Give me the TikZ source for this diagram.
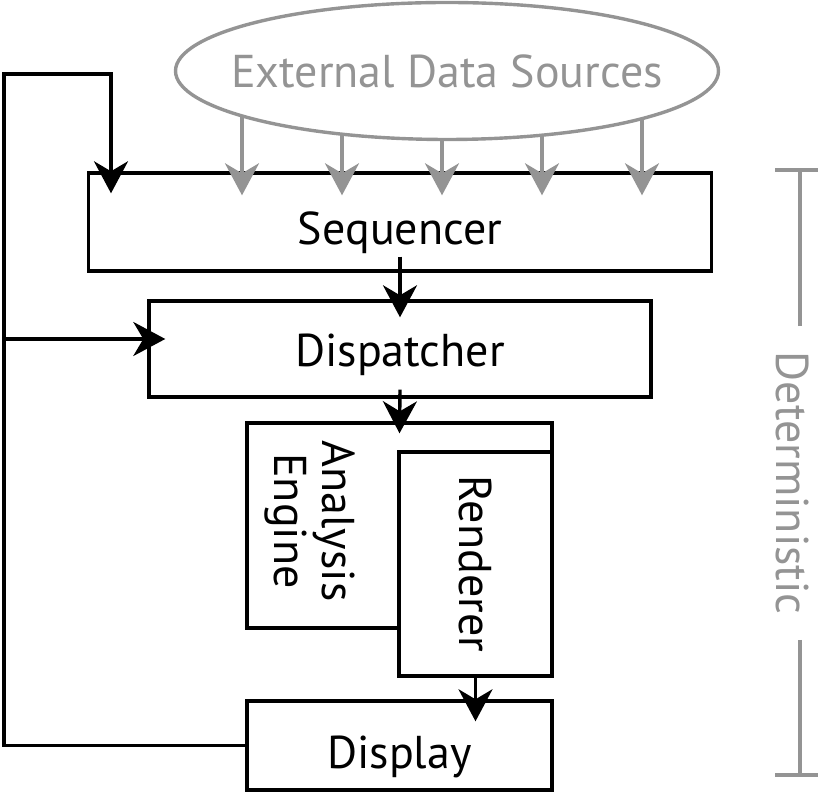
\documentclass[tikz,border=0pt]{standalone}
\usepackage{fontspec}
\setmainfont{PT Sans}
\usetikzlibrary{arrows.meta,calc,shapes.geometric}

\definecolor{srcgray}{gray}{0.58}

\tikzset{
  block/.style={draw, line width=1.7pt, fill=white, inner sep=0pt},
  flow/.style={line width=1.7pt, -{Stealth[length=16pt,width=17pt,inset=5pt]}},
  feed/.style={flow, srcgray},
  bracket/.style={line width=1.7pt, srcgray},
  bigtext/.style={font=\fontsize{23}{24}\selectfont},
  graytext/.style={bigtext, text=srcgray},
  lowtext/.style={text height=23pt, text depth=0pt}
}

\begin{document}
\begin{tikzpicture}[x=0.5pt,y=-0.5pt]
  \useasboundingbox (0,0) rectangle (820,795);

  % External data sources
  \node[ellipse, draw=srcgray, line width=1.7pt, graytext, minimum width=271.5pt,
        minimum height=68.5pt, inner xsep=-12pt, inner ysep=0pt] (src) at (447,71) {External Data Sources};

  % Blocks
  \node[block, bigtext, lowtext, minimum width=311.5pt, minimum height=49pt] (seq) at (400,222) {Sequencer};
  \node[block, bigtext, text height=17.5pt, text depth=0pt, minimum width=251pt, minimum height=48pt] (disp) at (400,349) {Dispatcher};
  \node[block, minimum width=152.5pt, minimum height=102.5pt] (ana) at (399.5,525.5) {};
  \node[bigtext, rotate=-90, align=center] (anatxt) at (310,521) {Analysis\\Engine};
  \node[block, bigtext, rotate=-90, minimum width=112pt, minimum height=76.5pt] (rend) at (475.5,564) {Renderer};
  \node[block, bigtext, lowtext, minimum width=152.5pt, minimum height=44.5pt] (show) at (399.5,745.5) {Display};

  % Sources into sequencer
  \foreach \x in {242,342,442,542,642} {
    \coordinate (tx) at (\x,0);
    \draw[feed] (\x,{71+68.5*sqrt(1-((\x-447)/271.5)^2)}) -- ($(seq.north -| tx)+(0,24)$);
  }

  % Main flow
  \draw[flow] ($(seq.south)+(0,-16)$) -- ($(disp.north)+(0,18)$);
  \draw[flow] ($(disp.south)+(0,-9)$) -- ($(ana.north)+(0,12)$);
  \draw[flow] (rend.east) -- ($(show.north -| rend.east)+(0,22)$);

  % Feedback from display
  \coordinate (fbtop) at (4,74);
  \coordinate (fbx) at (111,0);
  \coordinate (fbmid) at (4,339);
  \draw[flow] (show.west) -| (fbtop) -| ($(seq.north -| fbx)+(0,22)$);
  \draw[flow] (fbmid) -- ($(fbmid -| disp.west)+(18,0)$);

  % Deterministic bracket
  \node[graytext, rotate=-90, inner xsep=12.5pt, inner ysep=2pt] (det) at (793,483) {Deterministic};
  \coordinate (dtop) at (800,170);
  \coordinate (dbot) at (800,775);
  \draw[bracket] (det.west -| dtop) -- (dtop) ++(-25,0) -- ++(43,0);
  \draw[bracket] (det.east -| dbot) -- (dbot) ++(-25,0) -- ++(43,0);
\end{tikzpicture}
\end{document}
